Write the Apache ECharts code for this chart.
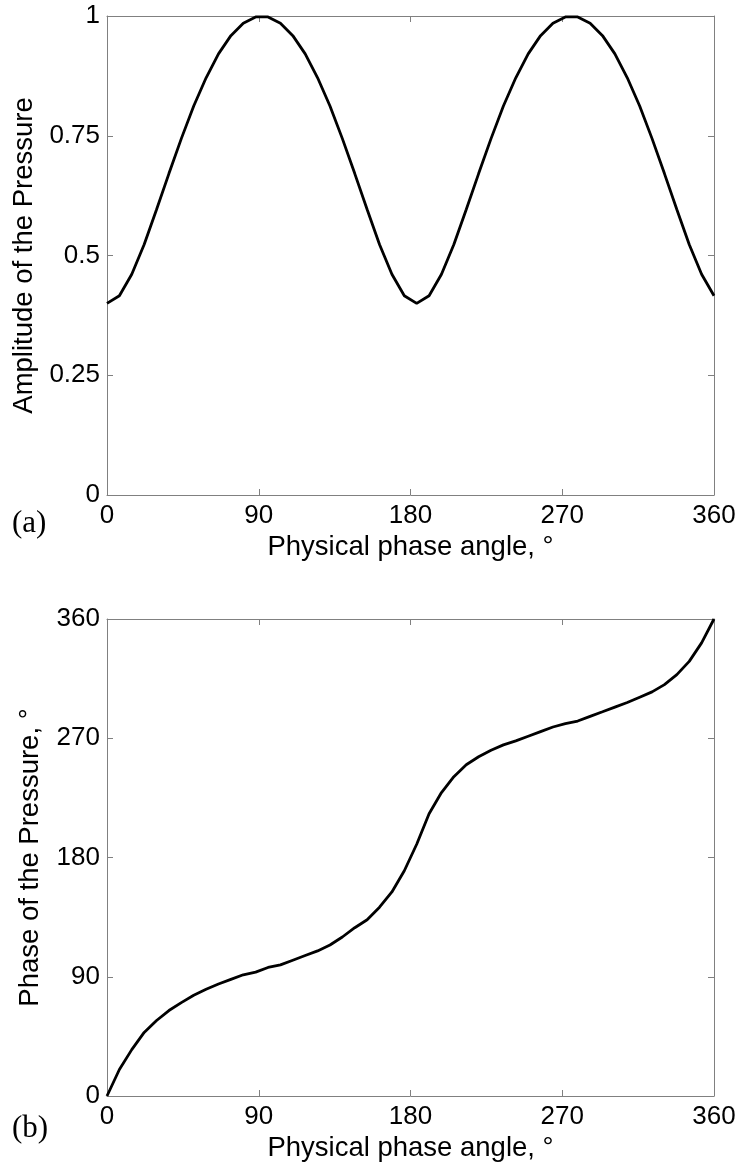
<!DOCTYPE html>
<html>
<head>
<meta charset="utf-8">
<script src="https://cdn.jsdelivr.net/npm/echarts@6/dist/echarts.min.js"></script>
<style>
html,body{margin:0;padding:0;background:#fff;}
#chart{width:741px;height:1163px;}
</style>
</head>
<body>
<div id="chart"></div>
<script>
// Physical phase angle (deg) sample positions
const xDeg = [0, 7.35, 14.69, 22.04, 29.39, 36.73, 44.08, 51.43, 58.78, 66.12,
  73.47, 80.82, 88.16, 95.51, 102.86, 110.20, 117.55, 124.90, 132.24, 139.59,
  146.94, 154.29, 161.63, 168.98, 176.33, 183.67, 191.02, 198.37, 205.71, 213.06,
  220.41, 227.76, 235.10, 242.45, 249.80, 257.14, 264.49, 271.84, 279.18, 286.53,
  293.88, 301.22, 308.57, 315.92, 323.27, 330.61, 337.96, 345.31, 352.65, 360];

// (a) Amplitude of the pressure
const amplitude = [0.400, 0.416, 0.461, 0.523, 0.596, 0.671, 0.744, 0.812, 0.871, 0.921,
  0.959, 0.985, 0.998, 0.998, 0.985, 0.959, 0.921, 0.871, 0.812, 0.744,
  0.671, 0.596, 0.523, 0.461, 0.416, 0.400, 0.416, 0.461, 0.523, 0.596,
  0.671, 0.744, 0.812, 0.871, 0.921, 0.959, 0.985, 0.998, 0.998, 0.985,
  0.959, 0.921, 0.871, 0.812, 0.744, 0.671, 0.596, 0.523, 0.461, 0.416];

// (b) Phase of the pressure (deg)
const phase = [0, 20, 35, 48, 57, 64.5, 70.5, 76, 80.5, 84.5,
  88, 91.5, 93.5, 97, 99, 102.5, 106, 109.5, 114, 120,
  127, 133, 142.5, 154, 170, 190, 213, 229, 241, 250,
  256, 261, 265, 268, 271.5, 275, 278.5, 281, 283, 286.5,
  290, 293.5, 297, 301, 305, 310.5, 318, 328, 342, 360];

const xTicks = [0, 90, 180, 270, 360];
const ampTicks = [0, 0.25, 0.5, 0.75, 1];
const phaseTicks = [0, 90, 180, 270, 360];

const FONT = 'Liberation Sans, Arial, sans-serif';
const AX = '#808080';

function xAx(gi, pos, name, show) {
  return {
    type: 'value', gridIndex: gi, position: pos,
    min: xTicks[0], max: xTicks[xTicks.length - 1], interval: xTicks[1] - xTicks[0],
    name: show ? name : '', nameLocation: 'middle', nameGap: 38,
    nameTextStyle: {color: '#000', fontSize: 27.5, fontFamily: FONT},
    axisLine: {show: true, onZero: false, lineStyle: {color: AX, width: 1}},
    axisTick: {show: true, inside: true, length: 6, lineStyle: {color: AX, width: 1}},
    axisLabel: {show: show, color: '#000', fontSize: 26, fontFamily: FONT, margin: 8},
    splitLine: {show: false}
  };
}
function yAx(gi, pos, ticks, name, show) {
  return {
    type: 'value', gridIndex: gi, position: pos,
    min: ticks[0], max: ticks[ticks.length - 1], interval: ticks[1] - ticks[0],
    name: show ? name : '', nameLocation: 'middle', nameGap: 63,
    nameTextStyle: {color: '#000', fontSize: 27.5, fontFamily: FONT},
    axisLine: {show: true, onZero: false, lineStyle: {color: AX, width: 1}},
    axisTick: {show: true, inside: true, length: 6, lineStyle: {color: AX, width: 1}},
    axisLabel: {show: show, color: '#000', fontSize: 26, fontFamily: FONT, margin: 7},
    splitLine: {show: false}
  };
}

const chart = echarts.init(document.getElementById('chart'), null, {renderer: 'canvas'});
chart.setOption({
  animation: false,
  backgroundColor: '#fff',
  grid: [
    {left: 107, top: 16, width: 607, height: 479},
    {left: 107, top: 619, width: 607, height: 479}
  ],
  xAxis: [
    xAx(0, 'bottom', 'Physical phase angle, \u00b0', true),
    xAx(0, 'top', '', false),
    xAx(1, 'bottom', 'Physical phase angle, \u00b0', true),
    xAx(1, 'top', '', false)
  ],
  yAxis: [
    yAx(0, 'left', ampTicks, 'Amplitude of the Pressure', true),
    yAx(0, 'right', ampTicks, '', false),
    yAx(1, 'left', phaseTicks, 'Phase of the Pressure, \u00b0', true),
    yAx(1, 'right', phaseTicks, '', false)
  ],
  graphic: [
    {type: 'text', left: 12, top: 508, style: {text: '(a)', fontSize: 31, fontFamily: 'Liberation Serif, Times New Roman, serif', fill: '#000'}},
    {type: 'text', left: 12, top: 1113, style: {text: '(b)', fontSize: 31, fontFamily: 'Liberation Serif, Times New Roman, serif', fill: '#000'}}
  ],
  series: [
    {type: 'line', xAxisIndex: 0, yAxisIndex: 0, showSymbol: false, smooth: false,
     lineStyle: {color: '#000', width: 2.8}, data: xDeg.map((x, i) => [x, amplitude[i]])},
    {type: 'line', xAxisIndex: 2, yAxisIndex: 2, showSymbol: false, smooth: false,
     lineStyle: {color: '#000', width: 2.8}, data: xDeg.map((x, i) => [x, phase[i]])}
  ]
});
</script>
</body>
</html>
